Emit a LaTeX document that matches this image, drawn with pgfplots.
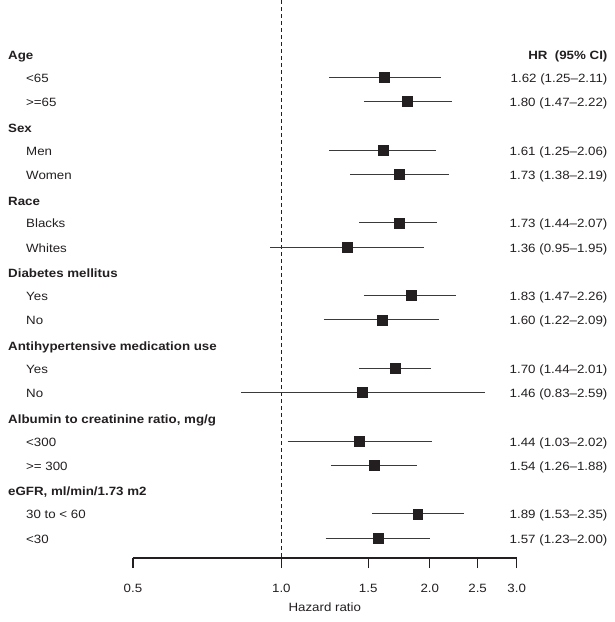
\documentclass[border=0pt]{standalone}
\usepackage{pgfplots}
\pgfplotsset{compat=1.18}
\usepackage{fontspec}
\setmainfont{Liberation Sans}[FakeStretch=1.11]
\definecolor{ink}{HTML}{231F20}
\definecolor{ciline}{HTML}{3A3A3A}
\newcommand{\lbl}{\fontsize{12}{14}\selectfont}
\begin{document}
\lbl
\begin{tikzpicture}[x=1pt,y=1pt]
\begin{axis}[
  at={(0,0)}, anchor=south west,
  scale only axis, width=384pt, height=558pt,
  xmode=log, xmin=0.5, xmax=3,
  ymin=-20.828, ymax=2.172,
  axis x line*=bottom, axis y line=none,
  axis line style={-, line width=1.3pt, color=ink},
  xtick={0.5,1,1.5,2,2.5,3},
  xticklabels={0.5,1.0,1.5,2.0,2.5,3.0},
  xminorticks=false,
  tick align=outside, major tick length=10pt,
  x tick style={line width=1.3pt, color=ink},
  /pgf/number format/assume math mode=true,
  xticklabel style={font=\lbl, text=ink, anchor=base, yshift=-24pt},
  xlabel={Hazard ratio},
  xlabel style={font=\lbl, text=ink, at={(axis description cs:0.5,0)}, anchor=base, yshift=-53.5pt},
  clip=false,
]
% reference line at HR = 1
\addplot[ink, line width=0.8pt, dash pattern=on 4pt off 3pt] coordinates {(1,2.172) (1,-20.828)};
% confidence intervals
\addplot[ciline, line width=0.8pt, unbounded coords=jump] coordinates {
(1.25,-1) (2.11,-1) (nan,nan)
(1.47,-2) (2.22,-2) (nan,nan)
(1.25,-4) (2.06,-4) (nan,nan)
(1.38,-5) (2.19,-5) (nan,nan)
(1.44,-7) (2.07,-7) (nan,nan)
(0.95,-8) (1.95,-8) (nan,nan)
(1.47,-10) (2.26,-10) (nan,nan)
(1.22,-11) (2.09,-11) (nan,nan)
(1.44,-13) (2.01,-13) (nan,nan)
(0.83,-14) (2.59,-14) (nan,nan)
(1.03,-16) (2.02,-16) (nan,nan)
(1.26,-17) (1.88,-17) (nan,nan)
(1.53,-19) (2.35,-19) (nan,nan)
(1.23,-20) (2.00,-20)
};
% hazard ratios
\addplot[only marks, mark=square*, mark size=5pt, mark options={fill=ink, draw=ink, line width=0.4pt}] coordinates {
(1.62,-1) (1.80,-2) (1.61,-4) (1.73,-5) (1.73,-7) (1.36,-8) (1.83,-10)
(1.60,-11) (1.70,-13) (1.46,-14) (1.44,-16) (1.54,-17) (1.89,-19) (1.57,-20)
};
\end{axis}
% text columns (row r sits at y = 505.3 - 24.26 r)
\begin{scope}[every node/.style={text=ink, font=\lbl, inner sep=0pt}]
\foreach \t/\r in {Age/0, Sex/3, Race/6, Diabetes mellitus/9, Antihypertensive medication use/12, {Albumin to creatinine ratio, mg/g}/15, {eGFR, ml/min/1.73 m2}/18}
  {\node[anchor=base west, font=\lbl\bfseries] at (-125, 505.3-24.26*\r-6.5) {\t};}
\foreach \t/\r in {{<65}/1, {>=65}/2, Men/4, Women/5, Blacks/7, Whites/8, Yes/10, No/11, Yes/13, No/14, {<300}/16, {>= 300}/17, {30 to < 60}/19, {<30}/20}
  {\node[anchor=base west] at (-107, 505.3-24.26*\r-5.2) {\t};}
\node[anchor=base east, font=\lbl\bfseries] at (475, 505.3-6.5) {HR\ \ (95\% CI)};
\foreach \t/\r in {{1.62 (1.25--2.11)}/1, {1.80 (1.47--2.22)}/2, {1.61 (1.25--2.06)}/4, {1.73 (1.38--2.19)}/5, {1.73 (1.44--2.07)}/7, {1.36 (0.95--1.95)}/8, {1.83 (1.47--2.26)}/10, {1.60 (1.22--2.09)}/11, {1.70 (1.44--2.01)}/13, {1.46 (0.83--2.59)}/14, {1.44 (1.03--2.02)}/16, {1.54 (1.26--1.88)}/17, {1.89 (1.53--2.35)}/19, {1.57 (1.23--2.00)}/20}
  {\node[anchor=base east] at (475, 505.3-24.26*\r-5.2) {\t};}
\end{scope}
\path (-133,-64) rectangle (482,558);
\end{tikzpicture}
\end{document}
